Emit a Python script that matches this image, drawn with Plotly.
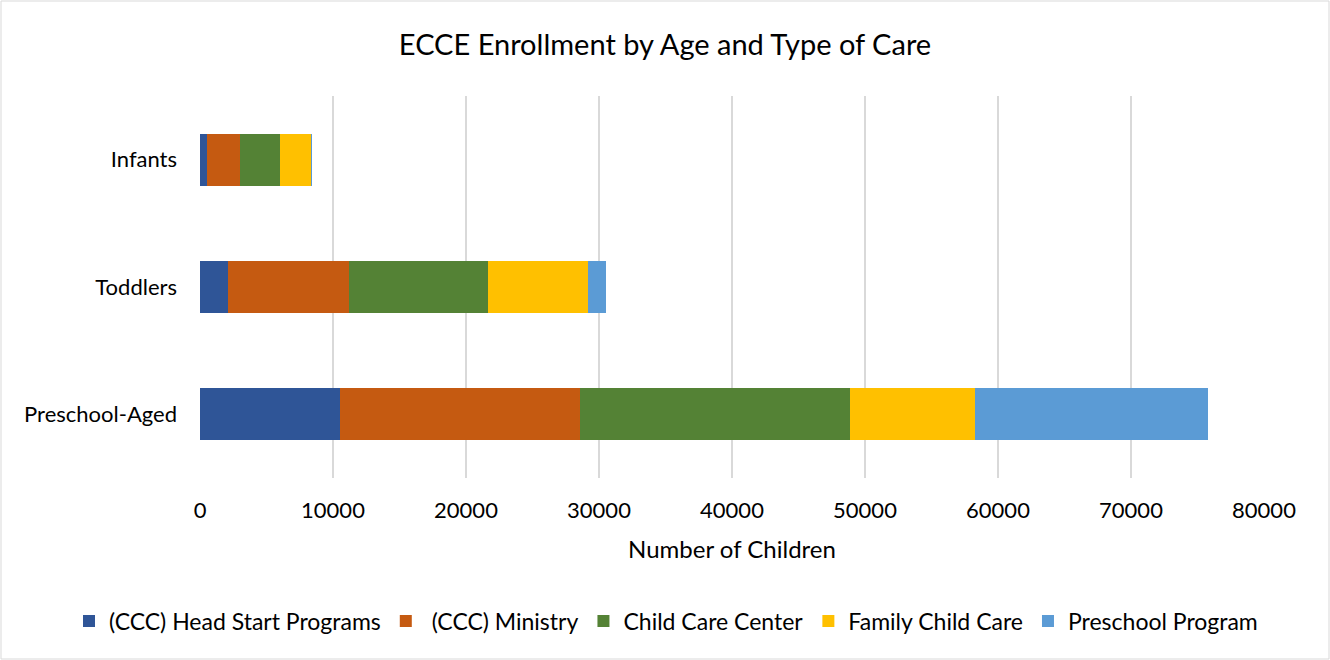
import plotly.graph_objects as go

categories = ["Preschool-Aged", "Toddlers", "Infants"]
series_names = ["(CCC) Head Start Programs", " (CCC) Ministry", "Child Care Center",
                "Family Child Care", "Preschool Program"]
head_start = [10520, 2070, 560]
ministry = [18040, 9120, 2480]
child_care_center = [20320, 10430, 3010]
family_child_care = [9390, 7520, 2310]
preschool_program = [17490, 1380, 40]
colors = ["#2F5597", "#C55A11", "#548235", "#FFC000", "#5B9BD5"]

values = [head_start, ministry, child_care_center, family_child_care, preschool_program]

fig = go.Figure()
for name, vals, col in zip(series_names, values, colors):
    fig.add_trace(go.Bar(
        y=categories, x=vals, name=name, orientation="h",
        marker=dict(color=col, line=dict(width=0)), width=0.41,
    ))

W, H = 1330, 660
ml, mr, mt, mb = 200, 66, 96, 182
pw, ph = W - ml - mr, H - mt - mb

fig.update_layout(
    width=W, height=H, barmode="stack",
    margin=dict(l=ml, r=mr, t=mt, b=mb),
    paper_bgcolor="white", plot_bgcolor="white",
    font=dict(family="Lato, Open Sans, sans-serif", size=22, color="#000000"),
    title=dict(text="ECCE Enrollment by Age and Type of Care", x=0.5, xanchor="center",
               y=1 - 45 / H, yanchor="middle", font=dict(size=29, color="#000000")),
    xaxis=dict(range=[0, 80000], dtick=10000, showgrid=True, gridcolor="#d9d9d9",
               gridwidth=1.5, zeroline=False, showline=False, tickformat="d",
               ticks="", ticklabelstandoff=17,
               title=dict(text="Number of Children", font=dict(size=24), standoff=19)),
    yaxis=dict(showgrid=False, zeroline=False, showline=False, ticks="",
               ticklabelstandoff=22, range=[-0.5, 2.5]),
    legend=dict(orientation="h", x=(69 - ml) / pw, xanchor="left", y=-(621 - 478) / ph,
                yanchor="middle", font=dict(size=23), traceorder="normal",
                itemwidth=30),
    shapes=[dict(type="rect", xref="paper", yref="paper",
                 x0=-(ml - 1) / pw, x1=1 + (mr - 1) / pw,
                 y0=-(mb - 1) / ph, y1=1 + (mt - 1) / ph,
                 line=dict(color="#d9d9d9", width=1), layer="below")],
)

fig.write_html("out.html", config={"displayModeBar": False},
               post_script="document.body.style.margin='0';document.body.style.padding='0';")
